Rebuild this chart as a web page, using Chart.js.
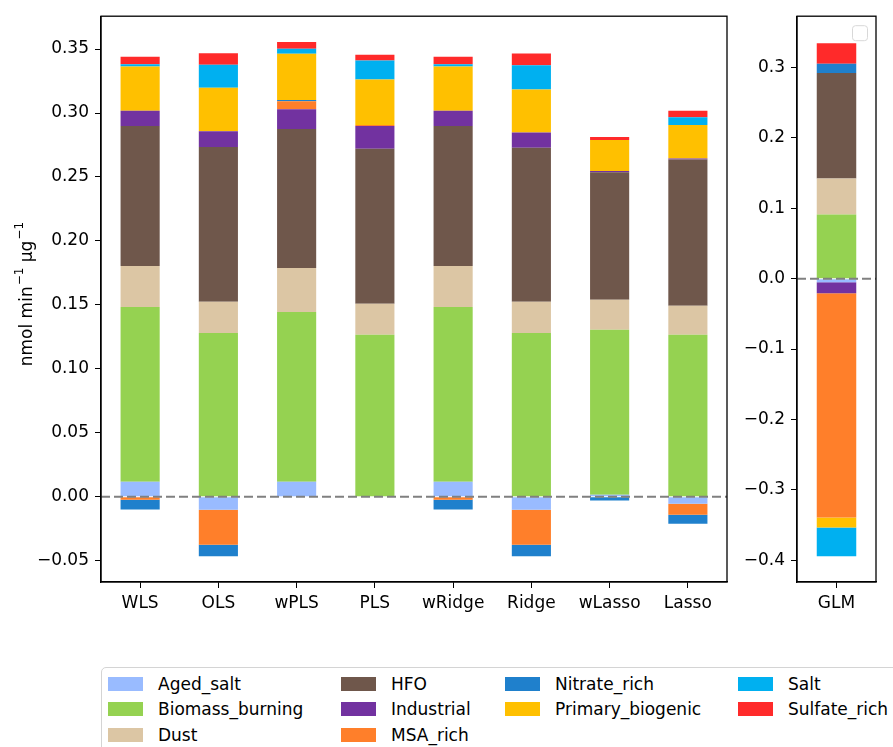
<!DOCTYPE html>
<html>
<head>
<meta charset="utf-8">
<script src="https://cdn.jsdelivr.net/npm/chart.js@4/dist/chart.umd.min.js"></script>
<style>
  html, body { margin: 0; padding: 0; background: #fff; }
  body { width: 893px; height: 747px; overflow: hidden; position: relative; font-family: "DejaVu Sans", sans-serif; }
  #main { position: absolute; left: 0; top: 0; }
  #glm { position: absolute; left: 740px; top: 0; }
  #legend { position: absolute; left: 101px; top: 667px; width: 840px; height: 110px;
            border: 1px solid #d4d4d4; border-radius: 5px; box-sizing: border-box; background: #fff; }
  .lg-patch { position: absolute; width: 35px; height: 14px; }
  .lg-text { position: absolute; font-size: 17px; line-height: 20px; color: #000; white-space: nowrap; }
</style>
</head>
<body>
<canvas id="main" width="740" height="620"></canvas>
<canvas id="glm" width="153" height="620"></canvas>
<div id="legend"></div>
<script>
// Source categories (stacking order, bottom to top) and their colours
const sources = ['Aged_salt', 'Biomass_burning', 'Dust', 'HFO', 'Industrial',
                 'MSA_rich', 'Nitrate_rich', 'Primary_biogenic', 'Salt', 'Sulfate_rich'];
const sourceColors = ['#99bbff', '#95d251', '#dcc6a4', '#6f574b', '#7232a0',
                      '#ff7f2a', '#1f80cc', '#ffc000', '#00b0f0', '#ff2a2a'];

// Regression methods (main panel)
const methods = ['WLS', 'OLS', 'wPLS', 'PLS', 'wRidge', 'Ridge', 'wLasso', 'Lasso'];

// Contribution of each source per method (nmol min-1 µg-1)
const agedSalt        = [0.0117, -0.0102, 0.0117, 0.0000, 0.0117, -0.0102, 0.0016, -0.0055];
const biomassBurning  = [0.1367, 0.1280, 0.1328, 0.1266, 0.1367, 0.1280, 0.1289, 0.1266];
const dust            = [0.0320, 0.0245, 0.0344, 0.0242, 0.0320, 0.0245, 0.0234, 0.0227];
const hfo             = [0.1095, 0.1210, 0.1086, 0.1213, 0.1095, 0.1203, 0.0998, 0.1143];
const industrial      = [0.0118, 0.0123, 0.0155, 0.0177, 0.0118, 0.0120, 0.0010, 0.0008];
const msaRich         = [-0.0023, -0.0273, 0.0062, 0.0008, -0.0023, -0.0273, 0.0000, -0.0086];
const nitrateRich     = [-0.0078, -0.0091, 0.0010, 0.0000, -0.0078, -0.0091, -0.0029, -0.0070];
const primaryBiogenic = [0.0346, 0.0340, 0.0361, 0.0356, 0.0346, 0.0336, 0.0242, 0.0263];
const salt            = [0.0018, 0.0180, 0.0039, 0.0149, 0.0018, 0.0190, 0.0000, 0.0060];
const sulfateRich     = [0.0059, 0.0090, 0.0054, 0.0044, 0.0059, 0.0091, 0.0023, 0.0050];

// GLM panel: one value per source, same order as `sources`
const glmLabels = ['GLM'];
const glmValues = [-0.0052, 0.0911, 0.0514, 0.1497, -0.0156, -0.3187, 0.0132, -0.0142, -0.0407, 0.0293];

// Axis ticks
const mainTicks = [-0.05, 0.00, 0.05, 0.10, 0.15, 0.20, 0.25, 0.30, 0.35];
const mainTickLabels = ['\u22120.05', '0.00', '0.05', '0.10', '0.15', '0.20', '0.25', '0.30', '0.35'];
const glmTicks = [-0.4, -0.3, -0.2, -0.1, 0.0, 0.1, 0.2, 0.3];
const glmTickLabels = ['\u22120.4', '\u22120.3', '\u22120.2', '\u22120.1', '0.0', '0.1', '0.2', '0.3'];

// Y-axis label pieces: [text, isSuperscript]
const yTitleParts = [['nmol min', false], ['\u22121', true], [' \u00B5g', false], ['\u22121', true]];

const mainSeries = [agedSalt, biomassBurning, dust, hfo, industrial,
                    msaRich, nitrateRich, primaryBiogenic, salt, sulfateRich];

const FAMILY = '"DejaVu Sans", sans-serif';
const FONT = { family: FAMILY, size: 17 };

// Full axes frame plus dashed zero reference line
const framePlugin = {
  id: 'frame',
  afterDatasetsDraw(chart) {
    const { ctx, chartArea: a, scales } = chart;
    const y0 = scales.y.getPixelForValue(0);
    ctx.save();
    ctx.strokeStyle = '#808080';
    ctx.lineWidth = 2;
    ctx.setLineDash([9, 4]);
    ctx.beginPath();
    ctx.moveTo(a.left, y0);
    ctx.lineTo(a.right, y0);
    ctx.stroke();
    ctx.setLineDash([]);
    ctx.strokeStyle = '#000';
    ctx.lineWidth = 1.3;
    ctx.strokeRect(a.left, a.top, a.right - a.left, a.bottom - a.top);
    ctx.restore();
  }
};

// Rotated y-axis title with raised exponents
const yTitlePlugin = {
  id: 'yTitle',
  afterDraw(chart) {
    const { ctx, chartArea: a } = chart;
    const big = '17px ' + FAMILY, small = '12px ' + FAMILY;
    ctx.save();
    let total = 0;
    yTitleParts.forEach(([t, sup]) => { ctx.font = sup ? small : big; total += ctx.measureText(t).width + (sup ? 1 : 0); });
    ctx.translate(32, (a.top + a.bottom) / 2 - 5);
    ctx.rotate(-Math.PI / 2);
    ctx.fillStyle = '#000';
    ctx.textBaseline = 'alphabetic';
    ctx.textAlign = 'left';
    let x = -total / 2;
    yTitleParts.forEach(([t, sup]) => {
      ctx.font = sup ? small : big;
      ctx.fillText(t, x + (sup ? 1 : 0), sup ? -9 : 0);
      x += ctx.measureText(t).width + (sup ? 1 : 0);
    });
    ctx.restore();
  }
};

// Empty legend frame in the corner of the GLM panel
const emptyLegendPlugin = {
  id: 'emptyLegend',
  afterDraw(chart) {
    const { ctx, chartArea: a } = chart;
    ctx.save();
    ctx.strokeStyle = '#d8d8d8';
    ctx.fillStyle = 'rgba(255,255,255,0.8)';
    ctx.lineWidth = 1;
    ctx.beginPath();
    ctx.roundRect(a.right - 23.5, a.top + 9.5, 15, 15, 3);
    ctx.fill();
    ctx.stroke();
    ctx.restore();
  }
};

function xScale() {
  return {
    stacked: true,
    grid: { display: true, drawOnChartArea: false, drawTicks: true, tickLength: 6, offset: false, color: '#000', lineWidth: 1 },
    border: { display: true, color: '#000', width: 1.3 },
    ticks: { color: '#000', font: FONT, padding: 5, maxRotation: 0, autoSkip: false },
    afterFit(s) { s.height = 38; }
  };
}

function yScale(min, max, tickValues, tickLabels, width) {
  return {
    stacked: true,
    min, max,
    afterBuildTicks(s) { s.ticks = tickValues.map(v => ({ value: v })); },
    grid: { display: true, drawOnChartArea: false, drawTicks: true, tickLength: 6, color: '#000', lineWidth: 1 },
    border: { display: true, color: '#000', width: 1.3 },
    ticks: { color: '#000', font: FONT, padding: 6, callback: (v, i) => tickLabels[i] },
    afterFit(s) { s.width = width; }
  };
}

const commonOpts = {
  responsive: false,
  animation: false,
  events: [],
  plugins: { legend: { display: false }, tooltip: { enabled: false } },
  datasets: { bar: { barPercentage: 0.5, categoryPercentage: 1, borderWidth: 0 } }
};

new Chart(document.getElementById('main'), {
  type: 'bar',
  data: {
    labels: methods,
    datasets: sources.map((name, i) => ({ label: name, data: mainSeries[i], backgroundColor: sourceColors[i] }))
  },
  options: Object.assign({}, commonOpts, {
    layout: { padding: { left: 0, right: 13, top: 14, bottom: 0 } },
    scales: {
      x: xScale(),
      y: yScale(-0.0667, 0.3757, mainTicks, mainTickLabels, 101)
    }
  }),
  plugins: [framePlugin, yTitlePlugin]
});

new Chart(document.getElementById('glm'), {
  type: 'bar',
  data: {
    labels: glmLabels,
    datasets: sources.map((name, i) => ({ label: name, data: [glmValues[i]], backgroundColor: sourceColors[i] }))
  },
  options: Object.assign({}, commonOpts, {
    layout: { padding: { left: 0, right: 17, top: 14, bottom: 0 } },
    scales: {
      x: xScale(),
      y: yScale(-0.431, 0.373, glmTicks, glmTickLabels, 57)
    }
  }),
  plugins: [framePlugin, emptyLegendPlugin]
});

// Legend below the panels, filled column by column (4 columns of 3, 3, 2, 2)
const legend = document.getElementById('legend');
const colSizes = [3, 3, 2, 2];
const colX = [6, 239, 403, 636];
const rowY = [15.5, 41, 66.5];
let idx = 0;
colSizes.forEach((n, col) => {
  for (let row = 0; row < n; row++, idx++) {
    const patch = document.createElement('div');
    patch.className = 'lg-patch';
    patch.style.left = colX[col] + 'px';
    patch.style.top = (rowY[row] - 7) + 'px';
    patch.style.background = sourceColors[idx];
    legend.appendChild(patch);
    const txt = document.createElement('div');
    txt.className = 'lg-text';
    txt.style.left = (colX[col] + 50) + 'px';
    txt.style.top = (rowY[row] - 10) + 'px';
    txt.textContent = sources[idx];
    legend.appendChild(txt);
  }
});
</script>
</body>
</html>
